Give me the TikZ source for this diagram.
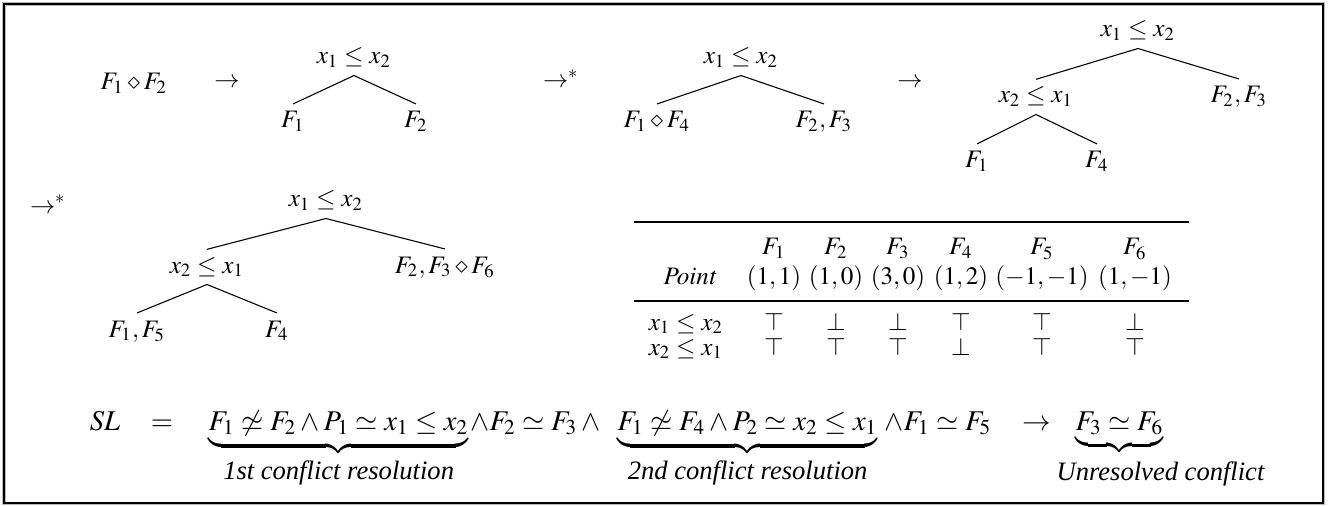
\documentclass[tikz,border=0pt]{standalone}
\usepackage{mathptmx}
\usepackage[no-math]{fontspec}
\setmainfont{Liberation Serif}
\tikzset{
  lbl/.style={anchor=base, inner xsep=1pt, inner ysep=2.5pt, font=\fontsize{8.8}{10.5}\selectfont},
  fml/.style={anchor=base west, inner sep=0pt, font=\fontsize{10}{12}\selectfont},
  capt/.style={anchor=base west, inner sep=0pt, font=\fontsize{9.3}{11}\selectfont\itshape},
  edgeline/.style={line width=0.38pt},
  rulel/.style={line width=0.45pt},
}
\newcommand{\brlabel}[1]{\mbox{\fontsize{9.3}{11}\selectfont\textit{#1}}}
\begin{document}
\begin{tikzpicture}[x=0.35pt,y=-0.35pt]
\useasboundingbox (0,0) rectangle (1337,506);
% frame
\draw[gray!55, line width=1.1pt] (4,4) rectangle (1323.5,503.5);
\draw[black, line width=0.5pt] (4,4) rectangle (1323,503);
% row 1
\node[lbl] (s0) at (134,90) {$F_1\diamond F_2$};
\node[lbl] (a1) at (227,88) {$\rightarrow$};
\node[lbl] (r1) at (354,64) {$x_1\le x_2$};
\node[lbl] (l11) at (293,128) {$F_1$};
\node[lbl] (l12) at (416,128) {$F_2$};
\draw[edgeline] (r1.south) -- (l11.north);
\draw[edgeline] (r1.south) -- (l12.north);
\node[lbl] (a2) at (561,88) {$\rightarrow^*$};
\node[lbl] (r2) at (741,64) {$x_1\le x_2$};
\node[lbl] (l21) at (657,128) {$F_1\diamond F_4$};
\node[lbl] (l22) at (824,128) {$F_2, F_3$};
\draw[edgeline] (r2.south) -- (l21.north);
\draw[edgeline] (r2.south) -- (l22.north);
\node[lbl] (a3) at (910,88) {$\rightarrow$};
\node[lbl] (r3) at (1138,37) {$x_1\le x_2$};
\node[lbl] (m31) at (1036,103) {$x_2\le x_1$};
\node[lbl] (m32) at (1239,103) {$F_2, F_3$};
\node[lbl] (l31) at (977,168) {$F_1$};
\node[lbl] (l32) at (1097,168) {$F_4$};
\draw[edgeline] (r3.south) -- (m31.north);
\draw[edgeline] (r3.south) -- (m32.north);
\draw[edgeline] (m31.south) -- (l31.north);
\draw[edgeline] (m31.south) -- (l32.north);
% row 2
\node[lbl] (a4) at (48,213) {$\rightarrow^*$};
\node[lbl] (r4) at (326,207) {$x_1\le x_2$};
\node[lbl] (m41) at (207,273) {$x_2\le x_1$};
\node[lbl] (m42) at (445,273) {$F_2, F_3\diamond F_6$};
\node[lbl] (l41) at (137,337) {$F_1, F_5$};
\node[lbl] (l42) at (277,337) {$F_4$};
\draw[edgeline] (r4.south) -- (m41.north);
\draw[edgeline] (r4.south) -- (m42.north);
\draw[edgeline] (m41.south) -- (l41.north);
\draw[edgeline] (m41.south) -- (l42.north);
% table
\coordinate (tl) at (634,222); \coordinate (tr) at (1189,222);
\coordinate (ml) at (634,301); \coordinate (mr) at (1189,301);
\draw[rulel] (tl) -- (tr);
\draw[rulel] (ml) -- (mr);
\node[lbl] (h1) at (774,255) {$F_1$};
\node[lbl] (h2) at (836,255) {$F_2$};
\node[lbl] (h3) at (898,255) {$F_3$};
\node[lbl] (h4) at (961,255) {$F_4$};
\node[lbl] (h5) at (1042,255) {$F_5$};
\node[lbl] (h6) at (1135,255) {$F_6$};
\node[lbl] (p0) at (690,284) {$\mathit{Point}$};
\node[lbl] (p1) at (774,284) {$(1,1)$};
\node[lbl] (p2) at (836,284) {$(1,0)$};
\node[lbl] (p3) at (898,284) {$(3,0)$};
\node[lbl] (p4) at (961,284) {$(1,2)$};
\node[lbl] (p5) at (1042,284) {$(-1,-1)$};
\node[lbl] (p6) at (1135,284) {$(1,-1)$};
\node[lbl] (q0) at (686,330) {$x_1\le x_2$};
\node[lbl] (q1) at (774,330) {$\top$};
\node[lbl] (q2) at (836,330) {$\bot$};
\node[lbl] (q3) at (898,330) {$\bot$};
\node[lbl] (q4) at (961,330) {$\top$};
\node[lbl] (q5) at (1042,330) {$\top$};
\node[lbl] (q6) at (1135,330) {$\bot$};
\node[lbl] (w0) at (686,355) {$x_2\le x_1$};
\node[lbl] (w1) at (774,355) {$\top$};
\node[lbl] (w2) at (836,355) {$\top$};
\node[lbl] (w3) at (898,355) {$\top$};
\node[lbl] (w4) at (961,355) {$\bot$};
\node[lbl] (w5) at (1042,355) {$\top$};
\node[lbl] (w6) at (1135,355) {$\top$};
% bottom formula
\node[fml, anchor=base] (sl) at (105,430) {$\mathit{SL}$};
\node[fml, anchor=base] (eq) at (162,430) {$=$};
\node[fml] (b1) at (208,430) {$\underbrace{F_1\not\simeq F_2\wedge P_1\simeq x_1\le x_2}_{\brlabel{1st conflict resolution}}$};
\node[fml] (b2) at (470,430) {$\mathord{\wedge}F_2\simeq F_3\wedge{}$};
\node[fml] (b3) at (617,430) {$\underbrace{F_1\not\simeq F_4\wedge P_2\simeq x_2\le x_1}_{\brlabel{2nd conflict resolution}}$};
\node[fml] (b4) at (884,430) {$\mathord{\wedge}F_1\simeq F_5$};
\node[fml, anchor=base] (b5) at (1037,430) {$\rightarrow$};
\node[fml] (b6) at (1075,430) {$\underbrace{F_3\simeq F_6}_{\vphantom{\brlabel{Ul}}}$};
\node[capt] (c3) at (1056,480) {Unresolved conflict};
\end{tikzpicture}
\end{document}
